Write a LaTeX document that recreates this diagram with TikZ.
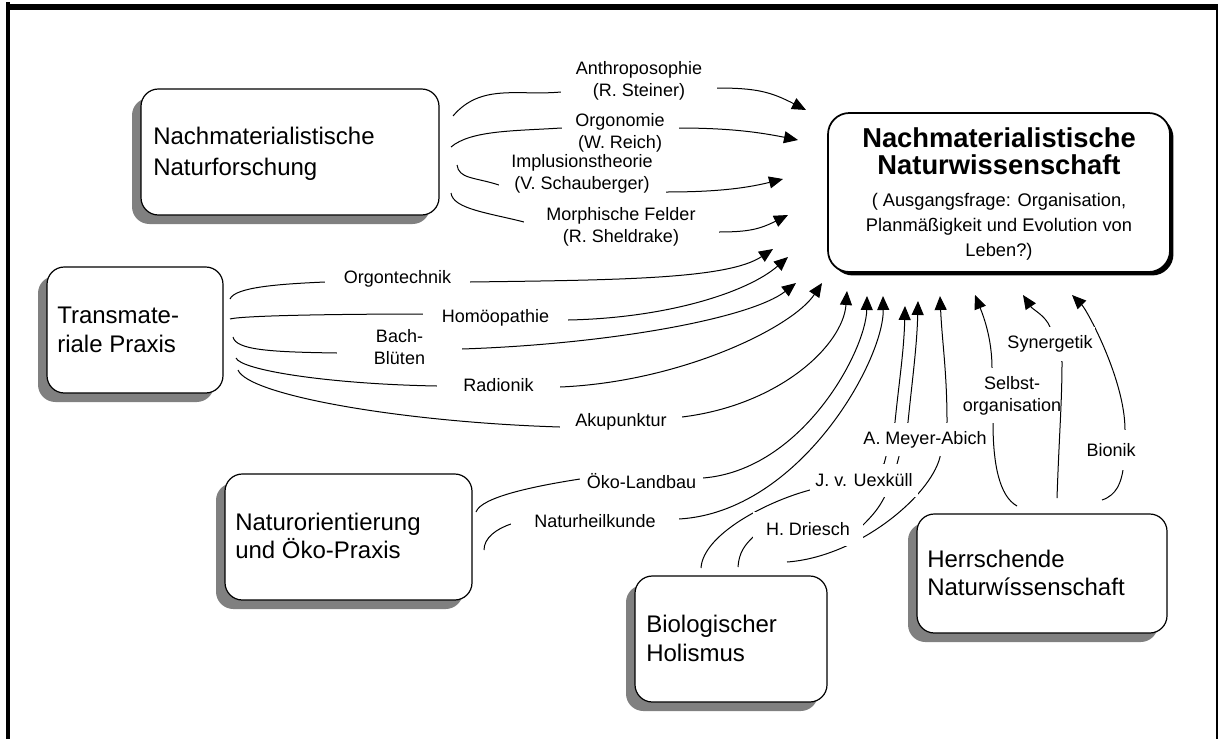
\documentclass[tikz,border=0pt]{standalone}
\usepackage{fontspec}
\setmainfont{Liberation Sans}
\usetikzlibrary{arrows.meta,shadows}
\begin{document}
\begin{tikzpicture}[x=0.75pt,y=0.75pt,
  gbox/.style={draw=black, line width=0.9pt, fill=white, rounded corners=13pt, inner sep=0pt,
     general shadow={fill=gray, shadow xshift=-6.75pt, shadow yshift=-6.75pt}},
  tbox/.style={draw=black, line width=1.3pt, fill=white, rounded corners=16pt, inner sep=0pt,
     general shadow={fill=black, shadow xshift=2.6pt, shadow yshift=-2.6pt}},
  btxt/.style={anchor=base west, inner sep=0pt, font=\fontsize{18}{22}\selectfont},
  ttl/.style={anchor=base, inner sep=0pt, font=\fontsize{20.5}{24}\selectfont\bfseries},
  sub/.style={anchor=base, inner sep=0pt, font=\fontsize{13.7}{18}\selectfont},
  lbl/.style={fill=white, inner sep=0pt, align=center, font=\fontsize{13.5}{16.5}\selectfont},
  con/.style={line width=0.75pt},
  arr/.style={con, -{Triangle[length=10.5pt,width=9pt]}}
]
\useasboundingbox (0,0) rectangle (1219,-739);

% frame
\draw[line width=3pt] (8,-2) -- (8,-739);
\draw[line width=4.5pt] (6,-7) -- (1218,-7);
\draw[line width=1.5pt] (1217,-4) -- (1217,-739);

% boxes
\node[gbox, minimum width=223.5pt, minimum height=94.5pt] (A) at (290,-152) {};
\node[tbox, minimum width=256.5pt, minimum height=119.25pt] (B) at (999,-192.5) {};
\node[gbox, minimum width=132pt, minimum height=94.5pt] (C) at (135,-330) {};
\node[gbox, minimum width=185.25pt, minimum height=94.5pt] (D) at (348.5,-537) {};
\node[gbox, minimum width=144pt, minimum height=94.5pt] (E) at (731,-639) {};
\node[gbox, minimum width=187.5pt, minimum height=89.25pt] (F) at (1042,-573.5) {};

% box texts
\node[btxt] (a1) at (153,-144) {Nachmaterialistische};
\node[btxt] (a2) at (153,-175) {Naturforschung};
\node[ttl] (b1) at (999,-147) {Nachmaterialistische};
\node[ttl] (b2) at (999,-174) {Naturwissenschaft};
\node[sub] (b3) at (999,-206) {( Ausgangsfrage: Organisation,};
\node[sub] (b4) at (999,-231) {Planmäßigkeit und Evolution von};
\node[sub] (b5) at (999,-256) {Leben?)};
\node[btxt] (c1) at (57,-323) {Transmate-};
\node[btxt] (c2) at (57,-352) {riale Praxis};
\node[btxt] (d1) at (235,-530) {Naturorientierung};
\node[btxt] (d2) at (235,-558) {und Öko-Praxis};
\node[btxt] (e1) at (646,-632) {Biologischer};
\node[btxt] (e2) at (646,-661) {Holismus};
\node[btxt] (f1) at (927,-567) {Herrschende};
\node[btxt] (f2) at (927,-595) {Naturwíssenschaft};

% connector end points
\coordinate (s1) at (453,-116); \coordinate (a1c) at (561,-92);  \coordinate (b1c) at (717,-88);  \coordinate (t1) at (806,-110);
\coordinate (s2) at (451,-147); \coordinate (a2c) at (561,-128); \coordinate (b2c) at (678,-128); \coordinate (t2) at (798,-140);
\coordinate (s3) at (457,-165); \coordinate (a3c) at (499,-185); \coordinate (b3c) at (666,-192); \coordinate (t3) at (783,-179);
\coordinate (s4) at (451,-193); \coordinate (a4c) at (524,-222); \coordinate (b4c) at (719,-232); \coordinate (t4) at (788,-215);
\coordinate (s5) at (230,-299); \coordinate (a5c) at (325,-282); \coordinate (b5c) at (470,-282); \coordinate (t5) at (773,-249);
\coordinate (s6) at (230,-319); \coordinate (a6c) at (423,-314); \coordinate (b6c) at (568,-320); \coordinate (t6) at (788,-257);
\coordinate (s7) at (233,-337); \coordinate (a7c) at (337,-353); \coordinate (b7c) at (462,-349); \coordinate (t7) at (796,-283);
\coordinate (s8) at (236,-358); \coordinate (a8c) at (437,-386); \coordinate (b8c) at (560,-387); \coordinate (t8) at (822,-283);
\coordinate (s9) at (238,-370); \coordinate (a9c) at (560,-427); \coordinate (b9c) at (682,-417); \coordinate (t9) at (847,-291);
\coordinate (s10) at (476,-512); \coordinate (a10c) at (580,-479); \coordinate (b10c) at (703,-478); \coordinate (t10) at (867,-296);
\coordinate (s11) at (484,-550); \coordinate (a11c) at (511,-524); \coordinate (b11c) at (679,-519); \coordinate (t11) at (883,-296);
\coordinate (s12) at (701,-568); \coordinate (a12c) at (810,-490); \coordinate (u1) at (884,-464); \coordinate (u2) at (895,-422); \coordinate (t12) at (905,-306);
\coordinate (s13) at (738,-567); \coordinate (a13c) at (753,-537); \coordinate (b13c) at (863,-525); \coordinate (d1c) at (885,-496); \coordinate (d2c) at (897,-464); \coordinate (d3c) at (908,-422); \coordinate (t13) at (918,-301);
\coordinate (s14) at (787,-562); \coordinate (m1) at (940,-457); \coordinate (m2) at (947,-422); \coordinate (t14) at (940,-296);
\coordinate (s15) at (1017,-506); \coordinate (e1c) at (993,-423); \coordinate (e2c) at (992,-368); \coordinate (t15) at (975,-295);
\coordinate (s16) at (1057,-498); \coordinate (y1) at (1062,-362); \coordinate (y2) at (1050,-327); \coordinate (t16) at (1023,-295);
\coordinate (s17) at (1102,-500); \coordinate (n1) at (1123,-470); \coordinate (n2) at (1125,-430); \coordinate (t17) at (1072,-295);

% connectors
\draw[arr] (s1) .. controls +(28,33) and +(-43,-4) .. (a1c) -- (b1c) .. controls +(40,0) and +(-35,18) .. (t1);
\draw[arr] (s2) .. controls +(20,17) and +(-45,-3) .. (a2c) -- (b2c) .. controls +(50,0) and +(-40,8) .. (t2);
\draw[arr] (s3) .. controls +(2,-14) and +(-25,8) .. (a3c) -- (b3c) .. controls +(45,0) and +(-40,-10) .. (t3);
\draw[arr] (s4) .. controls +(2,-16) and +(-35,9) .. (a4c) -- (b4c) .. controls +(30,0) and +(-28,-14) .. (t4);
\draw[arr] (s5) .. controls +(5,12) and +(-45,-2) .. (a5c) -- (b5c) .. controls +(150,2) and +(-45,-30) .. (t5);
\draw[arr] (s6) .. controls +(15,4) and +(-60,0) .. (a6c) -- (b6c) .. controls +(100,2) and +(-40,-35) .. (t6);
\draw[arr] (s7) .. controls +(3,-13) and +(-67,1) .. (a7c) -- (b7c) .. controls +(150,5) and +(-45,-35) .. (t7);
\draw[arr] (s8) .. controls +(5,-12) and +(-110,2) .. (a8c) -- (b8c) .. controls +(120,5) and +(-30,-45) .. (t8);
\draw[arr] (s9) .. controls +(10,-25) and +(-160,5) .. (a9c) -- (b9c) .. controls +(98,12) and +(-4,-54) .. (t9);
\draw[arr] (s10) .. controls +(5,15) and +(-45,-7) .. (a10c) -- (b10c) .. controls +(100,8) and +(-1,-54) .. (t10);
\draw[arr] (s11) .. controls +(0,12) and +(-15,-5) .. (a11c) -- (b11c) .. controls +(121,7) and +(1,-64) .. (t11);
\draw[arr] (s12) .. controls +(2,33) and +(-45,-12) .. (a12c) -- (u1) -- (u2) .. controls +(4,40) and +(-1,-45) .. (t12);
\draw[arr] (s13) .. controls +(1,15) and +(-8,-8) .. (a13c) -- (b13c) .. controls +(10,10) and +(-6,-12) .. (d1c) -- (d2c) -- (d3c) .. controls +(4,40) and +(-1,-45) .. (t13);
\draw[arr] (s14) .. controls +(70,5) and +(-10,-40) .. (m1) -- (m2) .. controls +(0,50) and +(2,-45) .. (t14);
\draw[arr] (s15) .. controls +(-18,10) and +(0,-40) .. (e1c) -- (e2c) .. controls +(0,30) and +(8,-20) .. (t15);
\draw[arr] (s17) .. controls +(15,5) and +(-2,-12) .. (n1) -- (n2) .. controls +(0,50) and +(15,-15) .. (t17);

% labels
\node[lbl, minimum width=117pt, minimum height=33pt] (l1) at (639,-81) {Anthroposophie\\(R. Steiner)};
\node[lbl, minimum width=125.25pt, minimum height=29pt] (l3) at (582,-174) {Implusionstheorie\\(V. Schauberger)};
\node[lbl, minimum width=87.75pt, minimum height=28pt] (l2) at (620,-133) {Orgonomie\\(W. Reich)};
\node[lbl, minimum width=146.25pt, minimum height=34pt] (l4) at (621,-227) {Morphische Felder\\(R. Sheldrake)};
\node[lbl, minimum width=108.75pt, minimum height=19.5pt] (l5) at (397.5,-279) {Orgontechnik};
\node[lbl, minimum width=108.75pt, minimum height=19.5pt] (l6) at (495.5,-318) {Homöopathie};
\node[lbl, minimum width=93.75pt, minimum height=34.5pt] (l7) at (399.5,-347) {Bach-\\Blüten};
\node[lbl, minimum width=92.25pt, minimum height=21pt] (l8) at (498.5,-385) {Radionik};
\node[lbl, minimum width=91.5pt, minimum height=21pt] (l9) at (621,-422) {Akupunktur};
\node[lbl, minimum width=92.25pt, minimum height=21pt] (l10) at (641.5,-481) {Öko-Landbau};
\node[lbl, minimum width=126pt, minimum height=22.5pt] (l11) at (595,-521) {Naturheilkunde};
\node[lbl, minimum width=81pt, minimum height=24.75pt] (l12) at (864,-480.5) {J. v. Uexküll};
\node[lbl, minimum width=82.5pt, minimum height=25.5pt] (l13) at (808,-529) {H. Driesch};
\node[lbl, minimum width=97.5pt, minimum height=24.75pt] (l14) at (925,-439.5) {A. Meyer-Abich};
\node[lbl, minimum width=72pt, minimum height=41.25pt] (l15) at (1012,-395.5) {Selbst-\\organisation};
\node[lbl, minimum width=42pt, minimum height=30pt] (l17) at (1111,-450) {Bionik};

% Synergetik drawn last (its line passes over the Selbstorganisation label)
\draw[arr] (s16) .. controls +(2,60) and +(0,-40) .. (y1) -- (y2) .. controls +(-5,12) and +(10,-15) .. (t16);
\node[lbl, minimum width=67.5pt, minimum height=25.5pt] (l16) at (1050,-344) {Synergetik};
\end{tikzpicture}
\end{document}
